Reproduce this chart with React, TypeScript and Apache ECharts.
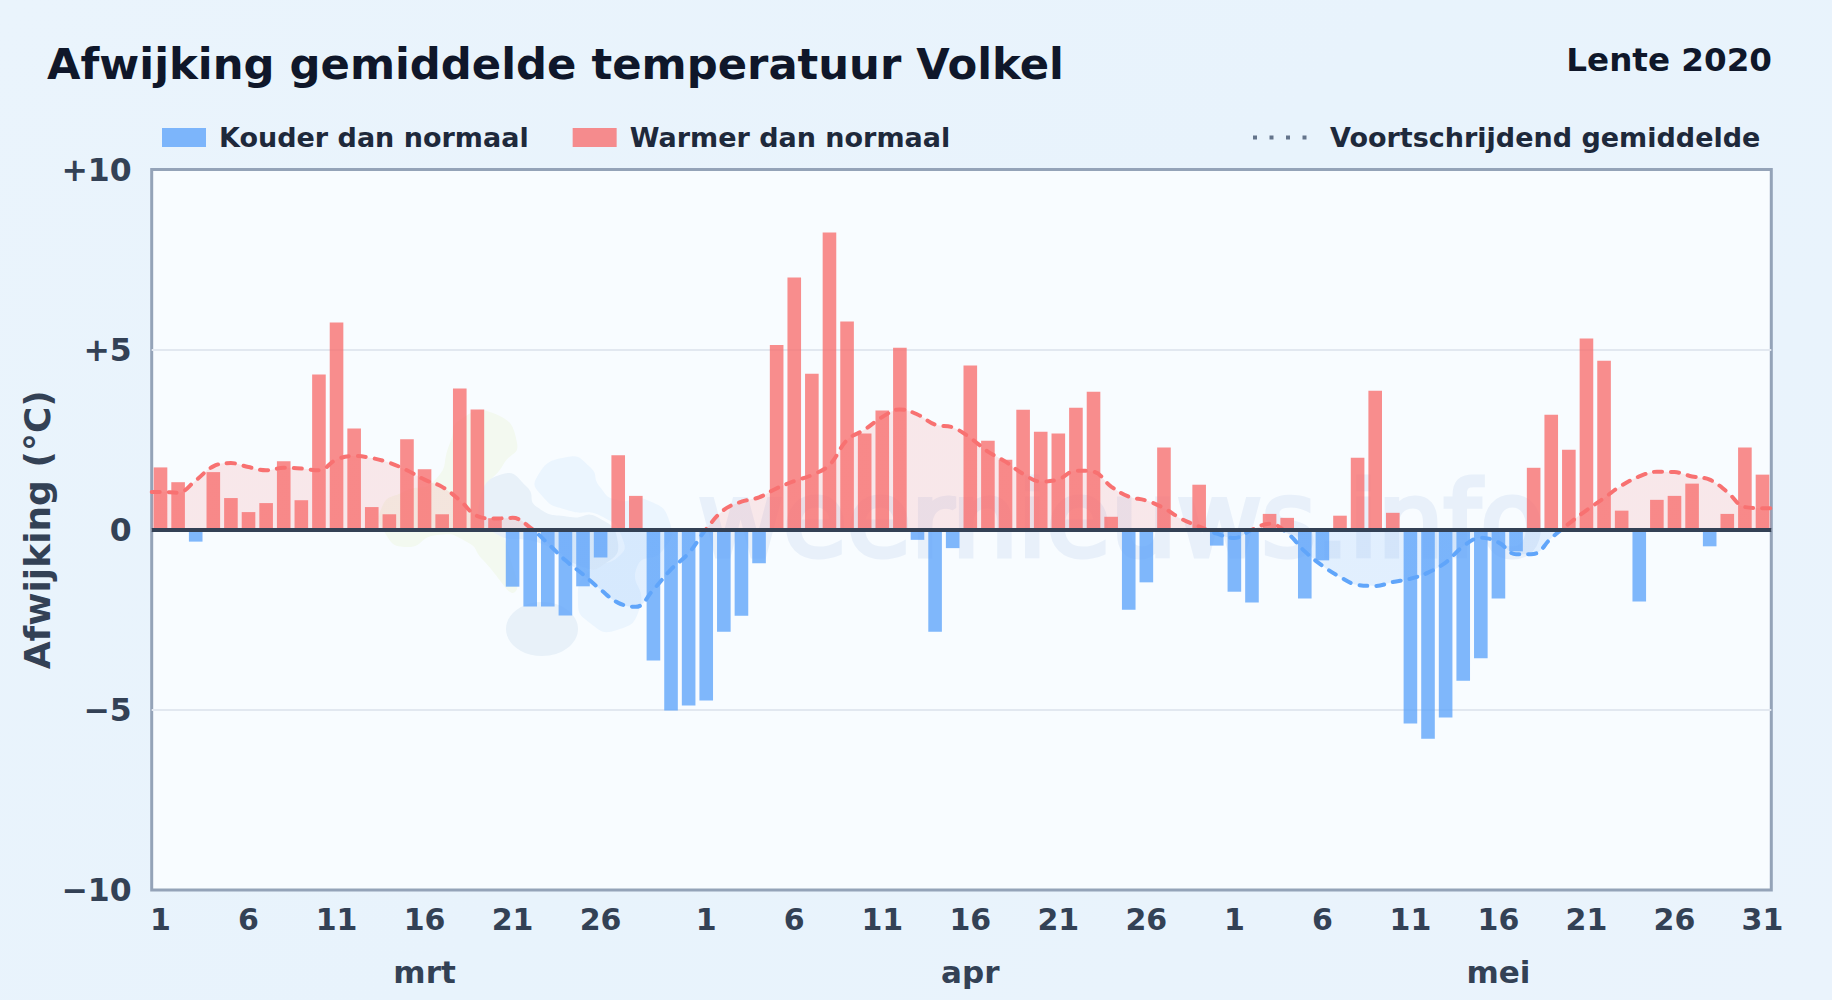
import React, { useEffect, useRef } from "react";
import * as echarts from "echarts";

const dayLabels = [
  "1","2","3","4","5","6","7","8","9","10","11","12","13","14","15","16","17","18","19","20","21","22","23","24","25","26","27","28","29","30","31",
  "1","2","3","4","5","6","7","8","9","10","11","12","13","14","15","16","17","18","19","20","21","22","23","24","25","26","27","28","29","30",
  "1","2","3","4","5","6","7","8","9","10","11","12","13","14","15","16","17","18","19","20","21","22","23","24","25","26","27","28","29","30","31",
];
const monthLabels: Record<number, string> = { 15: "mrt", 46: "apr", 76: "mei" };
const tickIndexes = [0,5,10,15,20,25,31,36,41,46,51,56,61,66,71,76,81,86,91];

const maart = [1.73,1.32,-0.33,1.6,0.88,0.49,0.74,1.9,0.82,4.31,5.75,2.81,0.63,0.43,2.51,1.68,0.43,3.92,3.34,0.32,-1.58,-2.13,-2.13,-2.38,-1.57,-0.77,2.07,0.94,-3.63,-5.02,-4.88];
const april = [-4.74,-2.83,-2.39,-0.93,5.13,7.0,4.33,8.25,5.78,2.67,3.31,5.05,-0.28,-2.83,-0.51,4.56,2.47,1.94,3.33,2.72,2.67,3.39,3.83,0.36,-2.22,-1.46,2.28,0,1.25,-0.44];
const mei = [-1.72,-2.02,0.44,0.33,-1.91,-0.85,0.39,2.0,3.86,0.47,-5.38,-5.8,-5.21,-4.19,-3.57,-1.91,-0.6,1.72,3.19,2.22,5.31,4.69,0.53,-1.99,0.83,0.94,1.28,-0.46,0.44,2.28,1.53];
const afwijking = [...maart, ...april, ...mei];

const gemiddeldeMaart = [1.05,1.03,1.37,1.76,1.85,1.74,1.65,1.72,1.70,1.65,1.95,2.05,1.99,1.86,1.65,1.39,1.19,0.82,0.38,0.31,0.33,0.06,-0.38,-0.85,-1.24,-1.66,-2.03,-2.14,-1.66,-1.1,-0.65];
const gemiddeldeApril = [0.02,0.55,0.78,0.9,1.15,1.35,1.52,1.8,2.49,2.78,3.13,3.34,3.2,2.92,2.84,2.55,2.17,1.89,1.55,1.34,1.4,1.64,1.61,1.2,0.92,0.81,0.6,0.3,0.09,-0.11];
const gemiddeldeMei = [-0.23,0,0.17,-0.09,-0.6,-1.0,-1.31,-1.53,-1.56,-1.45,-1.36,-1.19,-0.91,-0.46,-0.22,-0.35,-0.68,-0.67,-0.23,0.17,0.54,0.88,1.23,1.48,1.61,1.6,1.48,1.39,1.05,0.63,0.6];
const gemiddelde = [...gemiddeldeMaart, ...gemiddeldeApril, ...gemiddeldeMei];

const yTicks: Record<number, string> = { 10: "+10", 5: "+5", 0: "0", "-5": "\u22125", "-10": "\u221210" };

const FONT = "DejaVu Sans";
const COLD = "#60a5fa";
const WARM = "#f87171";
const INK = "#334155";

const blobGreen = [[493,413],[517,443],[503,465],[490,490],[505,540],[515,592],[483,560],[467,542],[437,535],[407,547],[385,533],[382,507],[403,492],[435,480],[450,443],[460,420]];
const blobGrey = [[503,474],[527,487],[537,507],[570,517],[597,517],[618,543],[603,565],[583,567],[545,545],[490,530],[480,500]];
const blobSky = [[537,477],[567,457],[590,467],[600,487],[617,500],[647,500],[670,523],[663,550],[637,567],[640,607],[617,630],[590,623],[578,600],[590,570],[618,557],[623,540],[603,517],[567,510],[543,497]];

export default function App() {
  const ref = useRef<HTMLDivElement>(null);
  useEffect(() => {
    document.body.style.margin = "0";
    const chart = echarts.init(ref.current!, undefined, { renderer: "svg" });
    const lineData: number[][] = [[-0.5, gemiddelde[0]], ...gemiddelde.map((v, i) => [i, v]), [91.5, gemiddelde[91]]];
    chart.setOption({
      animation: false,
      backgroundColor: "transparent",
      textStyle: { fontFamily: FONT },
      title: [
        { text: "Afwijking gemiddelde temperatuur Volkel", left: 42, top: 37, textStyle: { fontFamily: FONT, fontSize: 43.3, fontWeight: "bold", color: "#0f172a" } },
        { text: "Lente 2020", right: 55, top: 38, textStyle: { fontFamily: FONT, fontSize: 32.6, fontWeight: "bold", color: "#0f172a" } },
      ],
      legend: [
        {
          data: [{ name: "Kouder dan normaal", icon: "rect" }, { name: "Warmer dan normaal", icon: "rect" }],
          left: 162, top: 124, itemWidth: 44, itemHeight: 19, itemGap: 44, padding: 0,
          selectedMode: false,
          textStyle: { fontFamily: FONT, fontSize: 27, fontWeight: "bold", color: "#1e293b", padding: [0, 0, 0, 8] },
        },
        {
          data: ["Voortschrijdend gemiddelde"],
          left: 1251, top: 124, itemWidth: 56, itemHeight: 19, itemGap: 10, padding: 0,
          selectedMode: false,
          lineStyle: { color: "#64748b", type: [4, 12.5], width: 4, cap: "butt" },
          itemStyle: { opacity: 0 },
          textStyle: { fontFamily: FONT, fontSize: 27, fontWeight: "bold", color: "#1e293b", padding: [0, 0, 0, 16] },
        },
      ],
      grid: { show: true, left: 151.7, right: 60.7, top: 169.5, bottom: 110, backgroundColor: "#f8fcff", borderColor: "#94a3b8", borderWidth: 3 },
      graphic: [
        { type: "polygon", z: 1, silent: true, shape: { points: blobGreen, smooth: 0.6 }, style: { fill: "#f3f9f0" } },
        { type: "polygon", z: 1, silent: true, shape: { points: blobSky, smooth: 0.6 }, style: { fill: "#ebf5fe" } },
        { type: "polygon", z: 1, silent: true, shape: { points: blobGrey, smooth: 0.6 }, style: { fill: "#e8f1f9" } },
        { type: "ellipse", z: 1, silent: true, shape: { cx: 542, cy: 629, rx: 36, ry: 27 }, style: { fill: "#e8f1f9" } },
        { type: "text", z: 1, silent: true, x: 698, y: 572, style: { text: "weernieuws.info", fontFamily: FONT, fontSize: 104, fontWeight: "normal", fill: "#e8f0fa", stroke: "#e8f0fa", lineWidth: 5, textVerticalAlign: "bottom" } },
      ],
      xAxis: [
        {
          type: "category", data: dayLabels, position: "bottom", boundaryGap: true,
          axisLine: { show: false }, axisTick: { show: false }, splitLine: { show: false },
          axisLabel: {
            interval: (index: number) => tickIndexes.includes(index),
            margin: 14.5, hideOverlap: false, fontFamily: FONT, fontSize: 30, fontWeight: "bold", color: INK,
          },
        },
        {
          type: "category", data: dayLabels, position: "bottom", boundaryGap: true,
          axisLine: { show: false }, axisTick: { show: false }, splitLine: { show: false },
          axisLabel: {
            interval: (index: number) => monthLabels[index] !== undefined,
            formatter: (_: string, index: number) => monthLabels[index] ?? "",
            margin: 66.5, hideOverlap: false, fontFamily: FONT, fontSize: 31, fontWeight: "bold", color: INK,
          },
        },
        { type: "value", min: -0.5, max: 91.5, show: false, splitLine: { show: false } },
      ],
      yAxis: {
        type: "value", min: -10, max: 10, interval: 5,
        name: "Afwijking (\u00b0C)", nameLocation: "middle", nameGap: 96, nameRotate: 90, nameMoveOverlap: false,
        nameTextStyle: { fontFamily: FONT, fontSize: 36, fontWeight: "bold", color: INK },
        axisLine: { show: false }, axisTick: { show: false },
        splitLine: { show: true, showMinLine: false, showMaxLine: false, lineStyle: { color: "#e2e8f0", width: 2 } },
        axisLabel: { margin: 20, fontFamily: FONT, fontSize: 31.5, fontWeight: "bold", color: INK, formatter: (v: number) => yTicks[v] },
      },
      visualMap: {
        show: false, type: "piecewise", seriesIndex: 2, dimension: 1,
        pieces: [{ min: -10, max: 0, color: COLD }, { min: 0, max: 10, color: WARM }],
      },
      series: [
        {
          name: "Kouder dan normaal", type: "bar", xAxisIndex: 0, barWidth: 13.6, barGap: "-100%",
          data: afwijking.map((v) => (v < 0 ? v : null)),
          itemStyle: { color: COLD, opacity: 0.8 },
        },
        {
          name: "Warmer dan normaal", type: "bar", xAxisIndex: 0, barWidth: 13.6, barGap: "-100%",
          data: afwijking.map((v) => (v > 0 ? v : null)),
          itemStyle: { color: WARM, opacity: 0.8 },
        },
        {
          name: "Voortschrijdend gemiddelde", type: "line", xAxisIndex: 2, smooth: 0.4, symbol: "none",
          data: lineData,
          lineStyle: { width: 4, type: [8, 9], cap: "round" },
          areaStyle: { opacity: 0.15 },
          markLine: {
            silent: true, symbol: "none", label: { show: false }, z: 5,
            lineStyle: { color: INK, width: 4, type: "solid" },
            data: [{ yAxis: 0 }],
          },
        },
      ],
    });
    return () => chart.dispose();
  }, []);
  return (
    <div style={{ width: 1832, height: 1000, background: "linear-gradient(135deg,#eaf4fc 0%,#e8f3fc 50%,#eaf3fc 100%)" }}>
      <div ref={ref} style={{ width: 1832, height: 1000 }} />
    </div>
  );
}
